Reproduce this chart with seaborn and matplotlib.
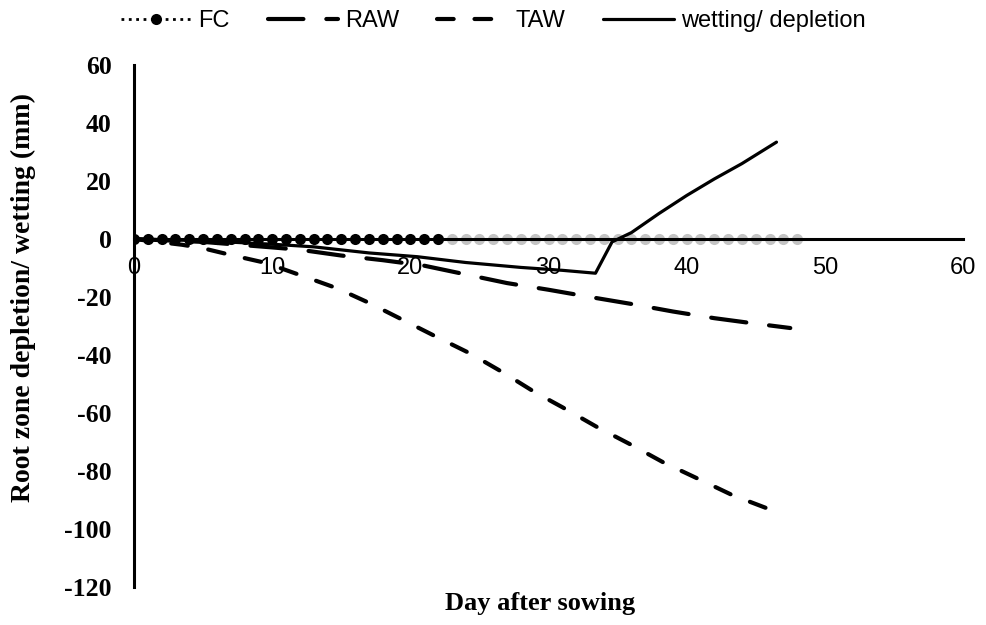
import matplotlib
matplotlib.use("Agg")
import matplotlib.pyplot as plt
import seaborn as sns
import pandas as pd

# ---- data ----
fc_days = list(range(0, 49))
fc_vals = [0] * 49

raw_days = [0, 5, 10, 12, 15, 18, 21, 24, 27, 30, 33, 36, 39, 42, 45, 47.5]
raw_vals = [0, -1, -2.9, -3.7, -5.7, -7.3, -9.2, -12.2, -15.2, -17.5, -20, -22.4, -25, -27.3, -29.2, -30.7]

taw_days = [0, 3.5, 5, 7, 9.5, 12, 14.7, 17, 19.5, 22, 24.3, 26.7, 29, 31, 33.5, 36, 38.3, 40.7, 43.3, 46.6]
taw_vals = [0, -2, -3.2, -5.5, -8.2, -12.4, -17, -22, -28, -34, -39.4, -46, -52.8, -58, -64.8, -71, -77, -82.4, -88.3, -94.3]

wet_days = [0, 5, 10, 13, 17, 20.5, 24, 28, 31, 33.4, 34.6, 36, 38, 40, 42, 44, 46.5]
wet_vals = [0, -0.6, -1.8, -2.7, -4.8, -6.1, -8.1, -9.8, -10.8, -11.8, -1, 2.2, 8.8, 15, 20.7, 26, 33.4]

x_ticks = [0, 10, 20, 30, 40, 50, 60]
y_ticks = [-120, -100, -80, -60, -40, -20, 0, 20, 40, 60]

x_label = "Day after sowing"
y_label = "Root zone depletion/ wetting (mm)"
legend_labels = ["FC", "RAW", "TAW", "wetting/ depletion"]

# ---- figure ----
sns.set_style("white")
plt.rcParams["font.family"] = ["Liberation Serif", "DejaVu Sans"]
plt.rcParams["text.color"] = "black"
plt.rcParams["axes.labelcolor"] = "black"
plt.rcParams["xtick.color"] = "black"
plt.rcParams["ytick.color"] = "black"

fig = plt.figure(figsize=(9.86, 6.25), dpi=100)
ax = fig.add_axes([134 / 986, 1 - 587 / 625, 829 / 986, 522 / 625])

fc_df = pd.DataFrame({"day": fc_days, "v": fc_vals})
split = 23
sns.lineplot(data=fc_df.iloc[split - 1:], x="day", y="v", ax=ax, color="#c4c4c4",
             linestyle=":", linewidth=2, marker="o", markersize=8,
             markeredgewidth=0, zorder=1)
sns.lineplot(data=fc_df.iloc[:split], x="day", y="v", ax=ax, color="black",
             linestyle=":", linewidth=2, marker="o", markersize=8,
             markeredgewidth=0, label=legend_labels[0], zorder=3)

sns.lineplot(x=raw_days, y=raw_vals, ax=ax, color="black", linewidth=3,
             linestyle=(0, (8.5, 5.5)), dash_capstyle="round",
             label=legend_labels[1], zorder=2)
sns.lineplot(x=taw_days, y=taw_vals, ax=ax, color="black", linewidth=3,
             linestyle=(0, (4, 5)), dash_capstyle="round",
             label=legend_labels[2], zorder=2)
sns.lineplot(x=wet_days, y=wet_vals, ax=ax, color="black", linewidth=2.3,
             label=legend_labels[3], zorder=2)

ax.set_xlim(0, 60)
ax.set_ylim(-120, 60)

for s in ["top", "right"]:
    ax.spines[s].set_visible(False)
ax.spines["bottom"].set_position(("data", 0))
ax.spines["left"].set_position(("data", 0))
for s in ["bottom", "left"]:
    ax.spines[s].set_linewidth(2.2)
    ax.spines[s].set_color("black")
    ax.spines[s].set_zorder(2.5)

ax.tick_params(axis="x", direction="out", length=4, width=1.5, pad=9)
ax.tick_params(axis="y", direction="out", length=4, width=2, pad=12)

ax.set_xticks(x_ticks)
ax.set_yticks(y_ticks)
ax.set_xticklabels([str(t) for t in x_ticks], fontfamily="Liberation Sans", fontsize=17, color="black")
ax.set_yticklabels([str(t) for t in y_ticks], fontweight="bold", fontsize=18.5, color="black")

ax.set_xlabel(x_label, fontweight="bold", fontsize=19)
ax.xaxis.set_label_coords(0.49, -0.01)
ax.set_ylabel(y_label, fontweight="bold", fontsize=20)
ax.yaxis.set_label_coords(-0.118, 0.554)

ax.get_legend().remove()
h, l = ax.get_legend_handles_labels()
fig.legend(h, l, loc="center", bbox_to_anchor=(0.5, 0.966), ncol=4, frameon=False,
           prop={"family": "Liberation Sans", "size": 17}, handlelength=3.0,
           handletextpad=0.3, columnspacing=1.6, labelcolor="black")

fig.savefig("out.png", dpi=100)
